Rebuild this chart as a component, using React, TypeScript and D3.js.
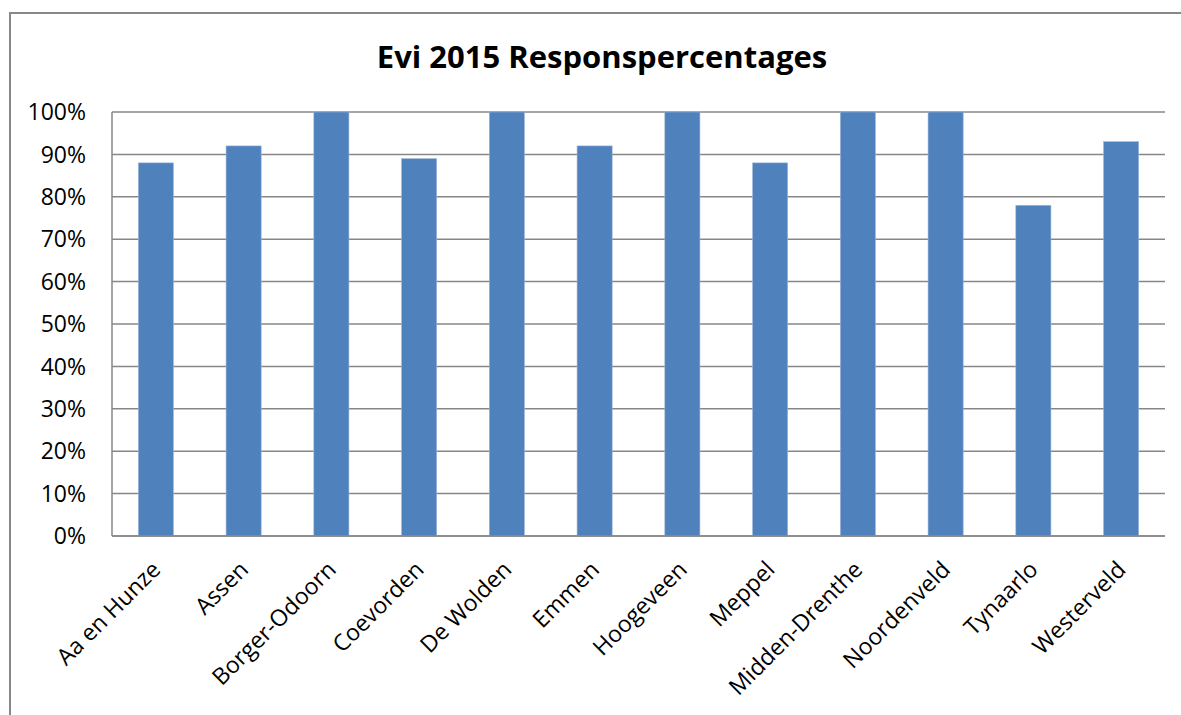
import React from "react";
import * as d3 from "d3";

const categories = [
  "Aa en Hunze", "Assen", "Borger-Odoorn", "Coevorden", "De Wolden", "Emmen",
  "Hoogeveen", "Meppel", "Midden-Drenthe", "Noordenveld", "Tynaarlo", "Westerveld",
];
const values = [0.88, 0.92, 1.0, 0.89, 1.0, 0.92, 1.0, 0.88, 1.0, 1.0, 0.78, 0.93];
const yTicks = [0, 0.1, 0.2, 0.3, 0.4, 0.5, 0.6, 0.7, 0.8, 0.9, 1.0];
const title = "Evi 2015 Responspercentages";

const W = 1181;
const H = 715;
const plot = { left: 112, right: 1165, top: 112, bottom: 536 };
const FONT = "'Open Sans', 'Noto Sans', sans-serif";

export default function App() {
  const x = d3.scaleBand<string>().domain(categories).range([plot.left, plot.right]).paddingInner(0).paddingOuter(0);
  const y = d3.scaleLinear().domain([0, 1]).range([plot.bottom, plot.top]);
  const step = x.step();
  const barW = step * 0.4;
  const fmt = d3.format(".0%");
  return (
    <svg width={W} height={H} style={{ position: "absolute", left: 0, top: 0, background: "#fff" }}>
      <rect x={10} y={13} width={1200} height={800} fill="#fff" stroke="#888" strokeWidth={2} />
      <text x={602} y={68} textAnchor="middle" fontFamily={FONT} fontWeight="bold" fontSize={31} fill="#000">
        {title}
      </text>
      {yTicks.map((t) => (
        <g key={t}>
          <line x1={plot.left} x2={plot.right} y1={y(t)} y2={y(t)} stroke="#878787" strokeWidth={1.5} />
          <text x={86} y={y(t)} dy="0.36em" textAnchor="end" fontFamily={FONT} fontSize={23} fill="#000">
            {fmt(t)}
          </text>
        </g>
      ))}
      <line x1={plot.left} x2={plot.left} y1={plot.top} y2={plot.bottom} stroke="#878787" strokeWidth={1.5} />
      {categories.map((c, i) => {
        const cx = (x(c) as number) + step / 2;
        return (
          <g key={c}>
            <rect
              x={cx - barW / 2}
              y={y(values[i])}
              width={barW}
              height={y(0) - y(values[i])}
              fill="#4F81BD"
              stroke="#9DB5D8"
              strokeWidth={0.6}
            />
            <text
              transform={`translate(${cx + 6},${571}) rotate(-45)`}
              textAnchor="end"
              fontFamily={FONT}
              fontSize={23}
              fill="#000"
            >
              {c}
            </text>
          </g>
        );
      })}
      <line x1={plot.left} x2={plot.right} y1={plot.bottom} y2={plot.bottom} stroke="#878787" strokeWidth={1.5} />
    </svg>
  );
}
